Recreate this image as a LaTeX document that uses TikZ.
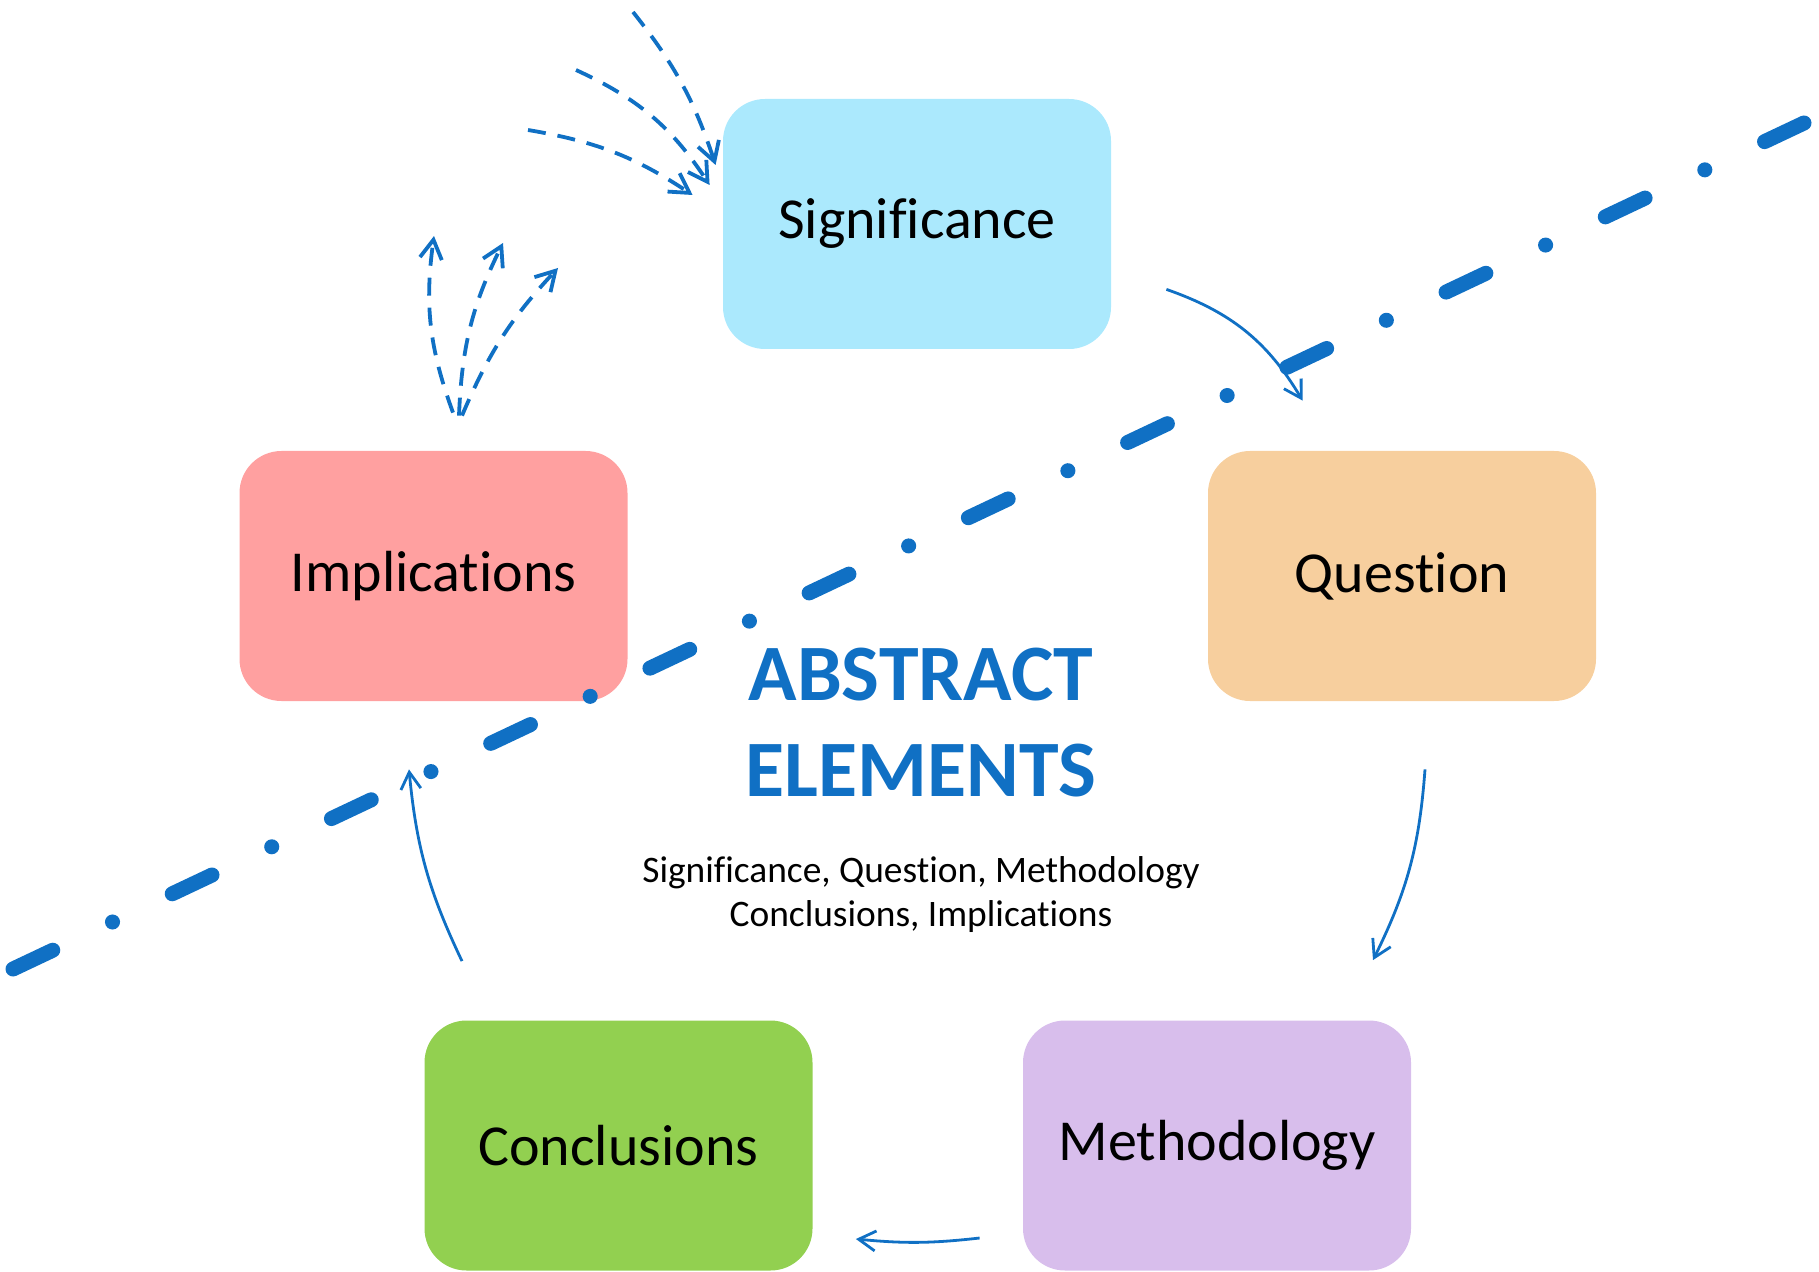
\documentclass[tikz,border=0pt]{standalone}
\usepackage{fontspec}
\setmainfont{Carlito}[Ligatures=NoCommon]
\usepackage{tikz}
\usetikzlibrary{arrows.meta}

\definecolor{abblue}{RGB}{16,112,196}
\definecolor{sigfill}{RGB}{171,233,253}
\definecolor{impfill}{RGB}{255,160,160}
\definecolor{quefill}{RGB}{247,207,158}
\definecolor{confill}{RGB}{146,208,80}
\definecolor{metfill}{RGB}{216,190,236}

\tikzset{
  card/.style={rounded corners=21pt, minimum width=194pt, minimum height=125pt, inner sep=0pt, font=\fontsize{29}{35}\selectfont},
  flow/.style={abblue, line width=1.4pt, -{Straight Barb[length=8.5pt,width=10pt]}},
  spark/.style={abblue, line width=1.9pt, dash pattern=on 9pt off 6pt, -{Straight Barb[length=9.5pt,width=11pt]}},
  divider/.style={abblue, line width=7.5pt, line cap=round, dash pattern=on 22pt off 33pt on 0.05pt off 33pt}
}

\begin{document}
\begin{tikzpicture}[x=0.5pt, y=0.5pt]
  \useasboundingbox (0,0) rectangle (1819,1271);

  % boxes
  \node[card, fill=sigfill] (sig) at (917,1047) {Significance};
  \node[card, fill=impfill] (imp) at (433.5,695) {Implications};
  \node[card, fill=quefill] (que) at (1402,695) {Question};
  \node[card, fill=confill] (con) at (618.5,125.5) {Conclusions};
  \node[card, fill=metfill] (met) at (1217,125.5) {Methodology};

  % title
  \node[abblue, font=\fontsize{40}{48}\selectfont\bfseries, align=center, anchor=base] (title) at (921,475) {ABSTRACT\\ELEMENTS};
  \node[font=\fontsize{18.7}{22}\selectfont, align=center, anchor=base] (sub) at (921,345) {Significance, Question, Methodology\\Conclusions, Implications};

  % cycle arrows
  \coordinate (sq1) at ([shift={(55,60)}]sig.south east);
  \coordinate (sq2) at ([shift={(95,50)}]que.north west);
  \coordinate (qm1) at ([shift={(23,-68)}]que.south);
  \coordinate (qm2) at ([shift={(156,60)}]met.north);
  \coordinate (mc1) at ([shift={(-43,-92.5)}]met.west);
  \coordinate (mc2) at ([shift={(43,-93.5)}]con.east);
  \coordinate (ci1) at ([shift={(-156.5,59)}]con.north);
  \coordinate (ci2) at ([shift={(-24.5,-68)}]imp.south);
  \draw[flow] (sq1) to[bend left=20] (sq2);
  \draw[flow] (qm1) to[bend left=11] (qm2);
  \draw[flow] (mc1) to[bend left=6] (mc2);
  \draw[flow] (ci1) to[bend left=10] (ci2);

  % dashed arrows into significance
  \coordinate (ina) at (633,1259);
  \coordinate (inb) at (576,1201);
  \coordinate (inc) at (528,1141);
  \draw[spark] (ina) to[bend left=10] ([shift={(-7,59)}]sig.west);
  \draw[spark] (inb) to[bend left=16] ([shift={(-13,39)}]sig.west);
  \draw[spark] (inc) to[bend left=12] ([shift={(-30,29)}]sig.west);

  % dashed arrows out of implications
  \coordinate (outa) at (434,1035);
  \coordinate (outb) at (503,1028);
  \coordinate (outc) at (558,1003);
  \draw[spark] ([shift={(19.5,38)}]imp.north) to[bend left=14] (outa);
  \draw[spark] ([shift={(25.5,35)}]imp.north) to[bend left=12] (outb);
  \draw[spark] ([shift={(28.5,35)}]imp.north) to[bend left=10] (outc);

  % dash-dot divider
  \coordinate (divA) at (13,302);
  \coordinate (divB) at (1804,1148);
  \draw[divider] (divA) -- (divB);
\end{tikzpicture}
\end{document}
